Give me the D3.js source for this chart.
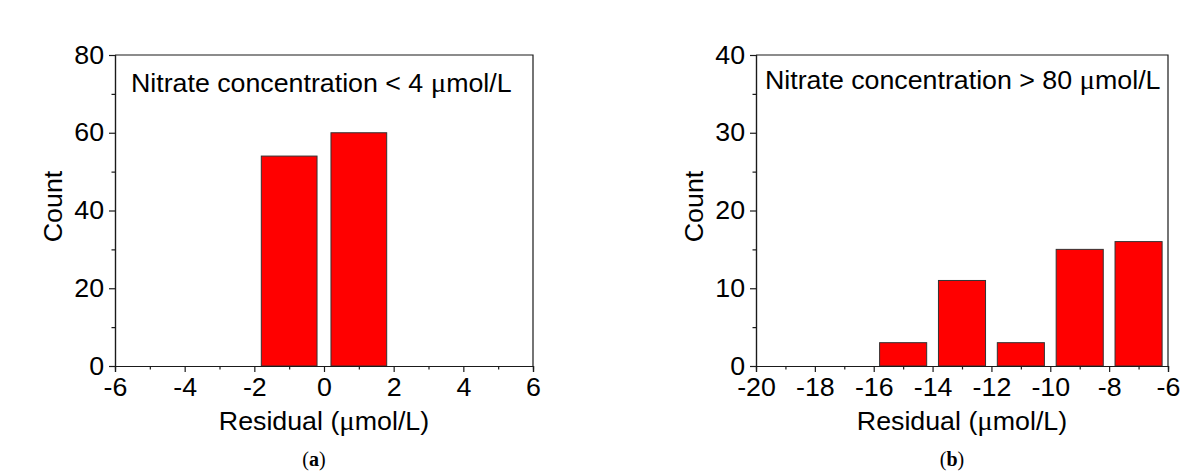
<!DOCTYPE html>
<html>
<head>
<meta charset="utf-8">
<script src="https://cdn.jsdelivr.net/npm/d3@7"></script>
<style>
  html, body { margin: 0; padding: 0; background: #ffffff; }
  svg { display: block; }
</style>
</head>
<body>
<svg id="chart" width="1192" height="474"></svg>
<script>
// Residual histograms: (a) low nitrate, (b) high nitrate
const binCentersA = [-5, -3, -1, 1, 3, 5];
const countsA = [0, 0, 54, 60, 0, 0];
const xTicksA = [-6, -4, -2, 0, 2, 4, 6];
const yTicksA = [0, 20, 40, 60, 80];
const noteA = "Nitrate concentration < 4 ";

const binCentersB = [-19, -17, -15, -13, -11, -9, -7];
const countsB = [0, 0, 3, 11, 3, 15, 16];
const xTicksB = [-20, -18, -16, -14, -12, -10, -8, -6];
const yTicksB = [0, 10, 20, 30, 40];
const noteB = "Nitrate concentration > 80 ";

const binWidth = 2;

const svg = d3.select("#chart");
const FONT = "'Liberation Sans', Arial, sans-serif";
const SERIF = "'Liberation Serif', 'Times New Roman', serif";
const AXIS_COLOR = "#1a1a1a";
const FS = 25.5;

// glyphs are drawn slightly wide: scale text horizontally around its anchor
function widen(sel) {
  sel.each(function () {
    const t = d3.select(this);
    const x = +t.attr("x") || 0, y = +t.attr("y") || 0;
    const prev = t.attr("transform") || "";
    t.attr("transform", `${prev} translate(${x},${y}) scale(1.05,1) translate(${-x},${-y})`);
  });
}

function drawPanel(opt) {
  const x = d3.scaleLinear().domain(opt.xDomain).range([opt.left, opt.right]);
  const y = d3.scaleLinear().domain(opt.yDomain).range([opt.bottom, opt.top]);
  const g = svg.append("g");

  // bars
  const data = opt.centers.map((c, i) => ({ c, v: opt.counts[i] })).filter(d => d.v > 0);
  g.selectAll("rect.bar").data(data).join("rect")
    .attr("class", "bar")
    .attr("x", d => x(d.c - binWidth * 0.4))
    .attr("width", d => x(d.c + binWidth * 0.4) - x(d.c - binWidth * 0.4))
    .attr("y", d => y(d.v))
    .attr("height", d => y(0) - y(d.v))
    .attr("fill", "#ff0000")
    .attr("stroke", "#333")
    .attr("stroke-width", 1);

  // frame (top and right)
  g.append("path")
    .attr("d", `M${opt.left},${opt.top}H${opt.right}V${opt.bottom}`)
    .attr("fill", "none").attr("stroke", AXIS_COLOR).attr("stroke-width", 1.2);

  // minor ticks
  const xMinor = opt.xTicks.slice(0, -1).map((t, i) => (t + opt.xTicks[i + 1]) / 2);
  const yMinor = opt.yTicks.slice(0, -1).map((t, i) => (t + opt.yTicks[i + 1]) / 2);

  const xAxisMinor = d3.axisBottom(x).tickValues(xMinor).tickSize(3.5).tickFormat("");
  const yAxisMinor = d3.axisLeft(y).tickValues(yMinor).tickSize(3.5).tickFormat("");
  const xAxis = d3.axisBottom(x).tickValues(opt.xTicks).tickSize(6).tickPadding(6)
    .tickFormat(d => String(d));
  const yAxis = d3.axisLeft(y).tickValues(opt.yTicks).tickSize(6).tickPadding(5)
    .tickFormat(d => String(d));

  [xAxisMinor, xAxis].forEach(ax => {
    g.append("g").attr("transform", `translate(0,${opt.bottom})`).call(ax)
      .call(s => s.selectAll("path,line").attr("stroke", AXIS_COLOR).attr("stroke-width", 1.2))
      .call(s => s.selectAll("text").attr("font-family", FONT).attr("font-size", FS).attr("fill", "#000").call(widen));
  });
  [yAxisMinor, yAxis].forEach(ax => {
    g.append("g").attr("transform", `translate(${opt.left},0)`).call(ax)
      .call(s => s.selectAll("path,line").attr("stroke", AXIS_COLOR).attr("stroke-width", 1.2))
      .call(s => s.selectAll("text").attr("font-family", FONT).attr("font-size", FS).attr("fill", "#000").call(widen));
  });

  // axis titles
  const xt = g.append("text")
    .attr("x", (opt.left + opt.right) / 2).attr("y", opt.bottom + 64)
    .attr("text-anchor", "middle").attr("font-family", FONT).attr("font-size", FS).attr("fill", "#000");
  xt.append("tspan").text("Residual (");
  xt.append("tspan").attr("font-family", SERIF).attr("font-size", FS + 2).text("μ");
  xt.append("tspan").text("mol/L)");
  xt.call(widen);

  g.append("text")
    .attr("transform", `translate(${opt.left - 53},${(opt.top + opt.bottom) / 2 - 4}) rotate(-90) scale(1.05,1)`)
    .attr("text-anchor", "middle").attr("font-family", FONT).attr("font-size", FS).attr("fill", "#000")
    .text("Count");

  // in-plot note
  const nt = g.append("text")
    .attr("x", opt.left + opt.noteDx).attr("y", opt.noteY)
    .attr("font-family", FONT).attr("font-size", FS).attr("fill", "#000");
  nt.append("tspan").text(opt.note);
  nt.append("tspan").attr("font-family", SERIF).attr("font-size", FS + 2).text("μ");
  nt.append("tspan").text("mol/L");
  nt.call(widen);

  // panel caption
  const cap = svg.append("text")
    .attr("x", opt.capX).attr("y", 466)
    .attr("text-anchor", "middle").attr("font-family", SERIF).attr("font-size", 20).attr("fill", "#000");
  cap.append("tspan").text("(");
  cap.append("tspan").attr("font-weight", "bold").text(opt.caption);
  cap.append("tspan").text(")");
}

drawPanel({
  left: 115, right: 533, top: 55, bottom: 366,
  xDomain: [-6, 6], yDomain: [0, 80],
  centers: binCentersA, counts: countsA,
  xTicks: xTicksA, yTicks: yTicksA,
  note: noteA, noteDx: 16, noteY: 92,
  caption: "a", capX: 314
});

drawPanel({
  left: 756, right: 1168, top: 55, bottom: 366,
  xDomain: [-20, -6], yDomain: [0, 40],
  centers: binCentersB, counts: countsB,
  xTicks: xTicksB, yTicks: yTicksB,
  note: noteB, noteDx: 9, noteY: 89,
  caption: "b", capX: 952
});
</script>
</body>
</html>
